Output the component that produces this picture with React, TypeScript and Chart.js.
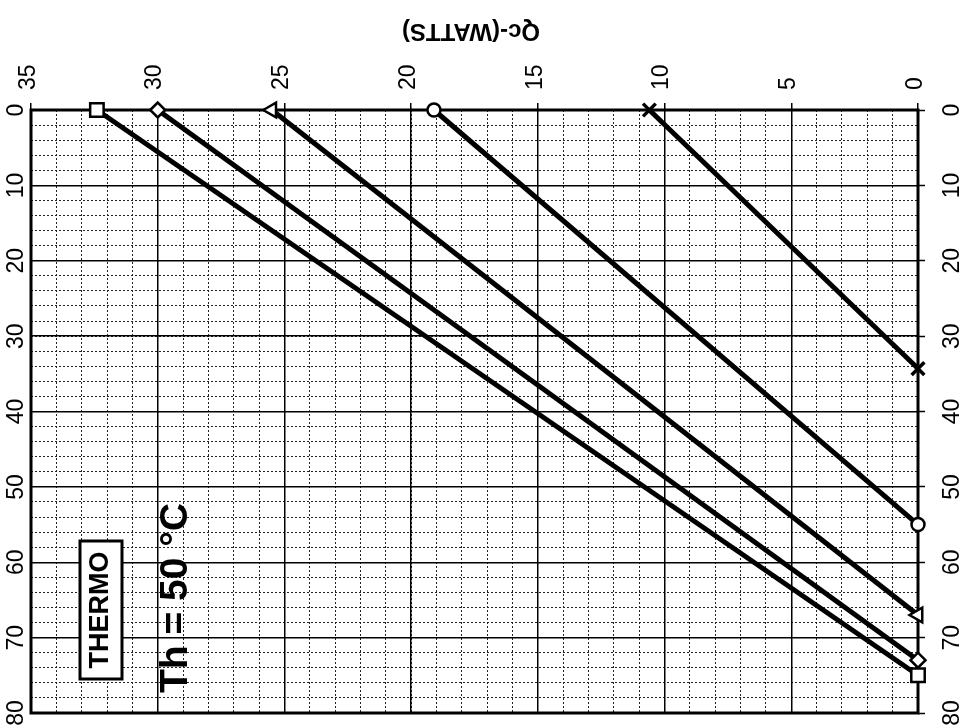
import React, { useEffect, useRef } from "react";
import { Chart, registerables } from "chart.js";

Chart.register(...registerables);

// Series: Qc (watts) at ΔT = 0, and ΔT at Qc = 0
const seriesNames = ["Square", "Diamond", "Triangle", "Circle", "Cross"];
const qcAtZeroDT = [32.4, 30, 25.5, 19.1, 10.6];
const dtAtZeroQc = [75, 73, 67, 55, 34.3];
const markerStyles = ["rect", "rectRot", "triangle", "circle", "crossRot"];
const markerRadius = [9.5, 7.5, 8.5, 6.5, 9];
const markerRotation = [0, 0, -90, 0, 0];

// Tick labels
const qcTicks = [0, 5, 10, 15, 20, 25, 30, 35];
const dtTicks = [0, 10, 20, 30, 40, 50, 60, 70, 80];

const titleText = "Qc-(WATTS)";
const boxText = "THERMO";
const noteText = "Th = 50 °C";

const FONT = "'Liberation Sans', Arial, sans-serif";

const decorPlugin = {
  id: "decor",
  beforeDatasetsDraw(chart: any) {
    const { ctx, chartArea } = chart;
    ctx.save();
    ctx.strokeStyle = "#000";
    ctx.lineWidth = 3;
    ctx.strokeRect(
      chartArea.left,
      chartArea.top,
      chartArea.right - chartArea.left,
      chartArea.bottom - chartArea.top
    );
    // THERMO box
    ctx.fillStyle = "#fff";
    ctx.fillRect(80, 541, 42, 138);
    ctx.lineWidth = 3;
    ctx.strokeRect(80, 541, 42, 138);
    ctx.fillStyle = "#000";
    ctx.save();
    ctx.translate(108, 610);
    ctx.rotate(-Math.PI / 2);
    ctx.font = `bold 27px ${FONT}`;
    ctx.textAlign = "center";
    ctx.textBaseline = "alphabetic";
    ctx.fillText(boxText, 0, 0, 122);
    ctx.restore();
    // Th = 50 °C
    ctx.save();
    ctx.translate(187, 693);
    ctx.rotate(-Math.PI / 2);
    ctx.font = `bold 39px ${FONT}`;
    ctx.textAlign = "left";
    ctx.textBaseline = "alphabetic";
    ctx.fillText(noteText, 0, 0, 191);
    ctx.restore();
    ctx.restore();
  },
  afterDraw(chart: any) {
    const { ctx } = chart;
    ctx.save();
    ctx.translate(471, 31);
    ctx.rotate(Math.PI);
    ctx.font = `bold 24px ${FONT}`;
    ctx.fillStyle = "#000";
    ctx.textAlign = "center";
    ctx.textBaseline = "middle";
    ctx.fillText(titleText, 0, 0);
    ctx.restore();
  },
};

const noPad = (s: any) => {
  s.paddingTop = 0;
  s.paddingBottom = 0;
  s.paddingLeft = 0;
  s.paddingRight = 0;
};

export default function App() {
  const ref = useRef<HTMLCanvasElement>(null);

  useEffect(() => {
    if (!ref.current) return;
    const datasets = seriesNames.map((name, i) => ({
      label: name,
      data: [
        { x: qcAtZeroDT[i], y: 0 },
        { x: 0, y: dtAtZeroQc[i] },
      ],
      borderColor: "#000",
      borderWidth: 5,
      pointStyle: markerStyles[i],
      pointRadius: markerRadius[i],
      pointRotation: markerRotation[i],
      pointBorderWidth: i === 4 ? 3.5 : 2.5,
      pointBorderColor: "#000",
      pointBackgroundColor: "#fff",
      clip: false,
      tension: 0,
    }));

    const chart = new Chart(ref.current, {
      type: "line",
      data: { datasets },
      plugins: [decorPlugin],
      options: {
        responsive: false,
        animation: false,
        layout: { padding: { top: 0, left: 0, right: 0, bottom: 15 } },
        plugins: {
          legend: { display: false },
          tooltip: { enabled: false },
          title: { display: false },
        },
        scales: {
          xMinor: {
            type: "linear",
            position: "top",
            reverse: true,
            min: 0,
            max: 35,
            ticks: { display: false, stepSize: 1 },
            grid: { color: "#222", lineWidth: 1, drawTicks: false },
            border: { display: false, dash: [2, 2] },
            afterFit: (s: any) => { s.height = 0; noPad(s); },
          },
          yMinor: {
            type: "linear",
            position: "left",
            reverse: true,
            min: 0,
            max: 80,
            ticks: { display: false, stepSize: 2 },
            grid: { color: "#222", lineWidth: 1, drawTicks: false },
            border: { display: false, dash: [2, 2] },
            afterFit: (s: any) => { s.width = 0; noPad(s); },
          },
          x: {
            type: "linear",
            position: "top",
            reverse: true,
            min: 0,
            max: 35,
            afterBuildTicks: (s: any) => { s.ticks = qcTicks.map((v) => ({ value: v })); },
            ticks: {
              color: "#000",
              font: { family: FONT, size: 23 },
              minRotation: 90,
              maxRotation: 90,
              padding: 13,
              labelOffset: 25,
            },
            grid: { color: "#000", lineWidth: 1.5, tickLength: 7, tickColor: "#000", tickWidth: 1.5 },
            border: { display: false },
            afterFit: (s: any) => { s.height = 110; noPad(s); },
          },
          y: {
            type: "linear",
            position: "left",
            reverse: true,
            min: 0,
            max: 80,
            afterBuildTicks: (s: any) => { s.ticks = dtTicks.map((v) => ({ value: v })); },
            ticks: {
              color: "#000",
              font: { family: FONT, size: 23 },
              minRotation: 90,
              maxRotation: 90,
              crossAlign: "center",
              padding: 2,
            },
            grid: { color: "#000", lineWidth: 1.5, drawTicks: false },
            border: { display: false },
            afterFit: (s: any) => { s.width = 31; noPad(s); },
          },
          y2: {
            type: "linear",
            position: "right",
            reverse: true,
            min: 0,
            max: 80,
            afterBuildTicks: (s: any) => { s.ticks = dtTicks.map((v) => ({ value: v })); },
            ticks: {
              color: "#000",
              font: { family: FONT, size: 23 },
              minRotation: 90,
              maxRotation: 90,
              crossAlign: "center",
              padding: 15,
            },
            grid: { drawOnChartArea: false, tickLength: 7, tickColor: "#000", tickWidth: 1.5 },
            border: { display: false },
            afterFit: (s: any) => { s.width = 54; noPad(s); },
          },
        },
      } as any,
    });
    return () => chart.destroy();
  }, []);

  return (
    <div style={{ position: "fixed", left: 0, top: 0, width: 972, height: 728, background: "#fff" }}>
      <canvas ref={ref} width={972} height={728} style={{ display: "block", width: 972, height: 728 }} />
    </div>
  );
}
